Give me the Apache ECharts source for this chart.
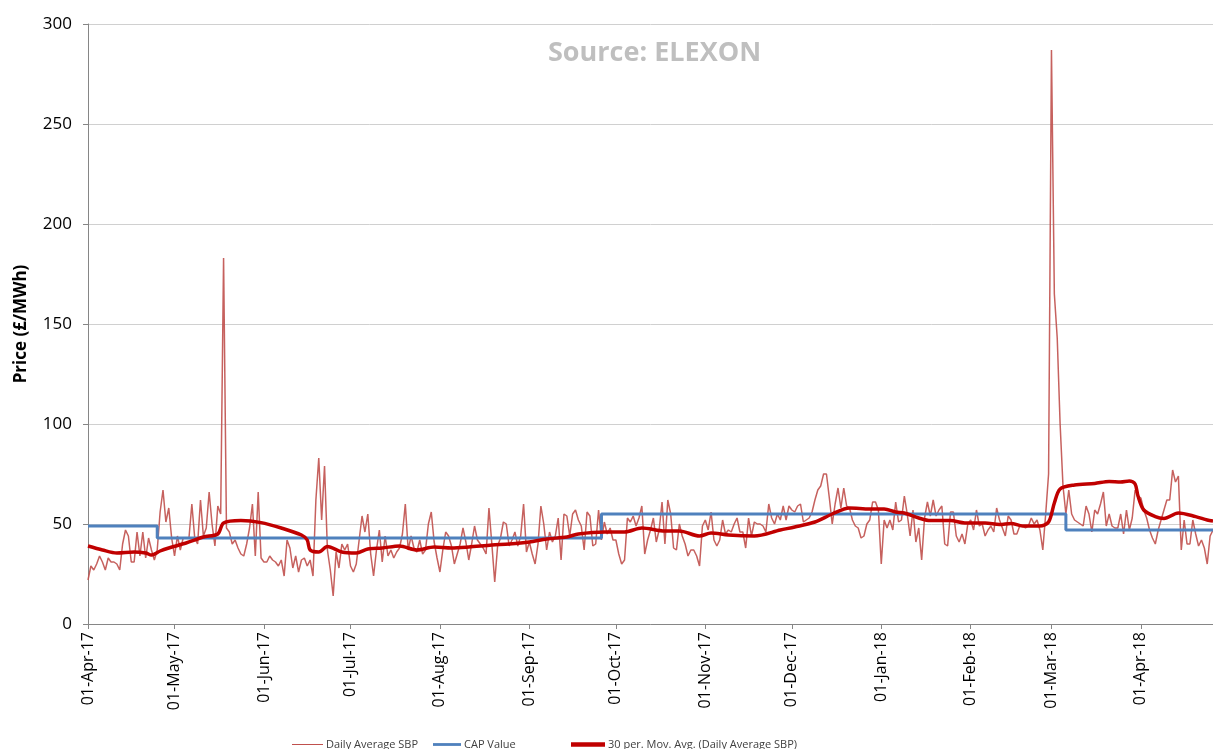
<!DOCTYPE html>
<html>
<head>
<meta charset="utf-8">
<script src="https://cdn.jsdelivr.net/npm/echarts@6/dist/echarts.min.js"></script>
<style>
html,body{margin:0;padding:0;background:#fff;}
#chart{width:1213px;height:749px;}
</style>
</head>
<body>
<div id="chart"></div>
<script>
// ---------- DATA ----------
const startDate = '2017-04-01';
const dayCount = 391; // 01-Apr-17 .. 26-Apr-18
const monthNames = ['Jan','Feb','Mar','Apr','May','Jun','Jul','Aug','Sep','Oct','Nov','Dec'];

// Daily Average SBP (£/MWh), one value per day, grouped by month
const sbpApr17 = [22,29,27,30,34,31,27,33,31,31,30,27,40,47,44,31,31,46,34,46,33,43,37,32,37,56,67,51,58,43];
const sbpMay17 = [34,44,37,43,43,43,60,43,40,62,44,48,66,50,39,59,55,183,48,46,40,42,38,35,34,40,48,60,34,66,33];
const sbpJun17 = [31,31,34,32,31,29,32,24,42,38,28,34,26,32,33,29,32,24,62,83,52,79,37,27,14,36,28,40,37,40];
const sbpJul17 = [29,26,30,42,54,46,55,35,24,37,47,31,44,34,37,33,36,38,45,60,37,44,38,36,42,35,37,50,56,41,33];
const sbpAug17 = [26,37,46,44,39,30,35,40,48,41,32,40,49,42,40,38,35,58,40,21,39,43,51,50,39,42,46,39,44,60,36];
const sbpSep17 = [41,35,30,40,59,50,37,46,41,44,53,32,55,54,44,55,57,52,49,37,56,54,39,40,57,42,51,45,48,42];
const sbpOct17 = [42,35,30,32,53,51,54,49,53,59,35,42,47,53,41,47,61,40,62,55,38,37,50,44,40,34,37,37,34,29,49];
const sbpNov17 = [52,47,56,42,39,42,52,45,47,46,50,53,46,46,38,53,44,51,50,50,49,46,60,53,50,55,52,59,52,59];
const sbpDec17 = [57,56,59,60,51,52,53,56,62,67,69,75,75,63,50,60,68,58,68,59,58,52,49,48,43,44,50,52,61,61,57];
const sbpJan18 = [30,52,48,52,47,61,51,52,64,55,44,57,41,48,32,53,61,54,62,54,57,59,40,39,56,56,44,41,45,40,50];
const sbpFeb18 = [52,47,57,49,50,44,47,49,46,58,52,48,44,54,52,45,45,49,49,48,49,53,50,52,47,37,55,75];
const sbpMar18 = [287,165,143,100,69,55,67,55,52,51,50,49,59,55,46,57,55,60,66,49,55,49,48,48,55,45,57,47,53,67,64];
const sbpApr18 = [63,57,53,47,43,40,47,52,57,62,62,77,71,74,37,52,40,40,52,45,39,42,38,30,44,47];

// CAP Value: step changes (date the new value starts)
const capDates  = ['01-Apr-17','25-Apr-17','26-Sep-17','06-Mar-18','26-Apr-18'];
const capValues = [49, 43, 55, 47, 47];

// 30 per. Mov. Avg. (Daily Average SBP), read at selected dates
const maDates = ['01-Apr-17','06-Apr-17','11-Apr-17','17-Apr-17','21-Apr-17','23-Apr-17','26-Apr-17','29-Apr-17',
  '05-May-17','11-May-17','16-May-17','18-May-17','24-May-17','31-May-17',
  '07-Jun-17','14-Jun-17','16-Jun-17','17-Jun-17','20-Jun-17','23-Jun-17','28-Jun-17',
  '03-Jul-17','07-Jul-17','12-Jul-17','18-Jul-17','24-Jul-17','30-Jul-17',
  '05-Aug-17','11-Aug-17','19-Aug-17','25-Aug-17',
  '01-Sep-17','07-Sep-17','14-Sep-17','18-Sep-17','27-Sep-17',
  '04-Oct-17','10-Oct-17','18-Oct-17','23-Oct-17','30-Oct-17',
  '03-Nov-17','09-Nov-17','18-Nov-17','27-Nov-17',
  '02-Dec-17','09-Dec-17','15-Dec-17','21-Dec-17','28-Dec-17',
  '02-Jan-18','06-Jan-18','09-Jan-18','14-Jan-18','18-Jan-18','25-Jan-18','30-Jan-18',
  '06-Feb-18','11-Feb-18','15-Feb-18','19-Feb-18','25-Feb-18','28-Feb-18',
  '02-Mar-18','04-Mar-18','09-Mar-18','16-Mar-18','21-Mar-18','25-Mar-18','28-Mar-18','30-Mar-18','31-Mar-18',
  '02-Apr-18','06-Apr-18','09-Apr-18','14-Apr-18','20-Apr-18','24-Apr-18','26-Apr-18'];
const maValues = [39,37,35.5,36,35.5,34.5,36.5,38,
  40.5,43.5,45,50.5,51.7,50.7,
  48,44.5,42,37,36,38.7,36,
  35.5,37.5,38,39,37,38.5,
  38,38.5,39.5,40,
  41,42.5,43.5,45,46,
  46,48,46.5,46.5,44,
  45.5,44.5,44,47,
  48.5,51,55,58,57.5,
  57.5,56,55.5,53,51.7,51.7,50.5,
  50.5,49.7,50.3,49,49,51,
  60.5,67.5,69.5,70.3,71.3,71,71.5,70,64,
  57,53.7,52.8,55.5,53.7,52,51.5];

const yTicks = {min: 0, max: 300, interval: 50};
const seriesNames = ['Daily Average SBP', 'CAP Value', '30 per. Mov. Avg. (Daily Average SBP)'];

// ---------- BUILD ----------
const sbpDaily = [].concat(sbpApr17,sbpMay17,sbpJun17,sbpJul17,sbpAug17,sbpSep17,sbpOct17,
  sbpNov17,sbpDec17,sbpJan18,sbpFeb18,sbpMar18,sbpApr18);

function fmt(d){
  const dd = String(d.getUTCDate()).padStart(2,'0');
  const yy = String(d.getUTCFullYear()).slice(2);
  return dd + '-' + monthNames[d.getUTCMonth()] + '-' + yy;
}
const categories = [];
const t0 = Date.parse(startDate + 'T00:00:00Z');
for (let i = 0; i < dayCount; i++) categories.push(fmt(new Date(t0 + i*86400000)));

const isMonthStart = (idx, val) => String(val).startsWith('01-');

const chart = echarts.init(document.getElementById('chart'), null, {renderer:'canvas'});
const FONT = "'Open Sans', 'Liberation Sans', sans-serif";
const legendText = {fontFamily: FONT, fontSize: 11, color: '#404040', padding: [0, 0, 0, -2]};
function legendAt(left, name, icon, w){
  return {left: left, top: 734, itemWidth: w, itemHeight: 10, textStyle: legendText,
    data: [{name: name, icon: icon}]};
}
chart.setOption({
  animation: false,
  backgroundColor: '#ffffff',
  title: {
    text: 'Source: ELEXON',
    left: 543, top: 35,
    textStyle: {fontFamily: FONT, fontSize: 27, fontWeight: 'bold', color: '#bfbfbf'}
  },
  legend: [
    legendAt(287, seriesNames[0], 'path://M0,4.5 L30,4.5 L30,5.5 L0,5.5 Z', 31),
    legendAt(428, seriesNames[1], 'path://M0,3.5 L30,3.5 L30,6.5 L0,6.5 Z', 28),
    legendAt(566, seriesNames[2], 'path://M0,3 L30,3 L30,7 L0,7 Z', 34)
  ],
  grid: {left: 88, right: 0, top: 24, bottom: 125, containLabel: false},
  xAxis: {
    type: 'category',
    data: categories,
    boundaryGap: false,
    axisLine: {lineStyle: {color: '#868686', width: 1}},
    axisTick: {show: true, interval: isMonthStart, length: 5, lineStyle: {color: '#868686'}},
    axisLabel: {
      interval: isMonthStart, rotate: 90, margin: 8,
      fontFamily: FONT, fontSize: 16, color: '#000000'
    },
    splitLine: {show: false}
  },
  yAxis: {
    type: 'value',
    min: yTicks.min, max: yTicks.max, interval: yTicks.interval,
    name: 'Price (£/MWh)',
    nameLocation: 'middle', nameGap: 58, nameRotate: 90,
    nameTextStyle: {fontFamily: FONT, fontSize: 17, fontWeight: 'bold', color: '#000000'},
    axisLine: {show: true, lineStyle: {color: '#868686', width: 1}},
    axisTick: {show: true, inside: false, length: 5, lineStyle: {color: '#868686'}},
    axisLabel: {fontFamily: FONT, fontSize: 17, color: '#000000', margin: 16},
    splitLine: {show: true, lineStyle: {color: '#d0d0d0', width: 1}}
  },
  series: [
    {
      name: seriesNames[0], type: 'line', data: sbpDaily,
      showSymbol: false, symbol: 'none',
      lineStyle: {color: '#c0504d', width: 1.5, opacity: 0.9},
      itemStyle: {color: '#c0504d'}, z: 2
    },
    {
      name: seriesNames[1], type: 'line', step: 'end',
      data: capDates.map((d, i) => [d, capValues[i]]),
      showSymbol: false, symbol: 'none',
      lineStyle: {color: '#4f81bd', width: 3},
      itemStyle: {color: '#4f81bd'}, z: 3
    },
    {
      name: seriesNames[2], type: 'line', smooth: 0.3,
      data: maDates.map((d, i) => [d, maValues[i]]),
      showSymbol: false, symbol: 'none',
      lineStyle: {color: '#c00000', width: 3.5},
      itemStyle: {color: '#c00000'}, z: 4
    }
  ]
});
</script>
</body>
</html>
